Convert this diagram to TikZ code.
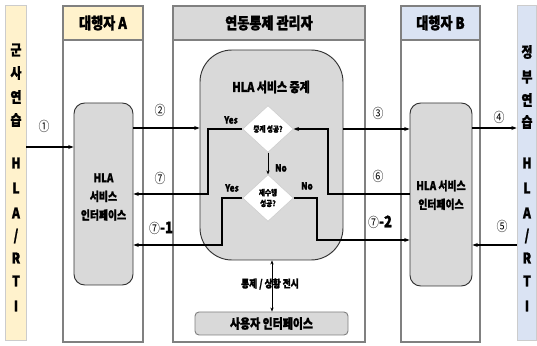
\documentclass[tikz,border=0pt]{standalone}
\usepackage{fontspec}
\setmainfont{Noto Sans CJK KR}[FakeStretch=0.82, BoldFeatures={FakeBold=1.3}]
\usetikzlibrary{shapes.geometric,arrows.meta,fit,calc}
\definecolor{yel}{HTML}{FFF2CC}
\definecolor{blu}{HTML}{DAE3F3}
\definecolor{gr}{HTML}{D9D9D9}
\definecolor{bord}{HTML}{808080}
\tikzset{
  col/.style={draw=bord, line width=1.1pt, inner sep=0pt},
  hdr/.style={draw=bord, line width=1.1pt, inner sep=0pt},
  hdrtxt/.style={inner sep=0pt, font=\bfseries\fontsize{12}{14}\selectfont},
  bar/.style={draw=bord!40, line width=0.5pt, inner sep=0pt},
  barch/.style={font=\bfseries\fontsize{11}{12}\selectfont, inner sep=0pt},
  ibox/.style={draw=black!80, fill=gr, line width=0.7pt, inner sep=0pt},
  itxt/.style={inner sep=0pt, align=center, font=\bfseries\fontsize{9}{14}\selectfont},
  dia/.style={diamond, fill=white, draw=gray!40, line width=0.4pt, inner sep=0pt, minimum width=38pt, minimum height=35pt, align=center, font=\bfseries\fontsize{6}{8}\selectfont},
  arr/.style={line width=1pt, -{Stealth[length=4pt,width=3pt]}},
  num/.style={font=\fontsize{10}{12}\selectfont, inner sep=0pt},
  yn/.style={font=\bfseries\fontsize{7.5}{9}\selectfont, inner sep=0pt},
}
\begin{document}
\begin{tikzpicture}[x=0.75pt,y=-0.75pt]
\useasboundingbox (0,0) rectangle (537,346);
% side bars
\node[bar, fill=yel, fit={(5,5)(26,340)}] (lbar) {};
\node[bar, fill=blu, fit={(517,5)(536,340)}] (rbar) {};
\foreach \c/\y [count=\i] in {군/50,사/73,연/97,습/120,H/163,L/188,A/213,{/}/236,R/258,T/281,I/306}
  \node[barch] (lc\i) at (16,\y) {\c};
\foreach \c/\y [count=\i] in {정/52,부/77,연/100,습/122,H/163,L/188,A/213,{/}/236,R/258,T/281,I/306}
  \node[barch] (rc\i) at (527,\y) {\c};
% columns
\node[col, fit={(63,6)(143,342)}] (colA) {};
\node[hdr, fill=yel, fit={(63,6)(143,40)}] (hA) {};
\node[hdrtxt] (tA) at (hA.center) {대행자 A};
\node[col, fit={(173,6)(365,342)}] (colC) {};
\node[hdr, fill=gr, fit={(173,6)(365,40)}] (hC) {};
\node[hdrtxt] (tC) at (hC.center) {연동통제 관리자};
\node[col, fit={(401,6)(480,342)}] (colB) {};
\node[hdr, fill=blu, fit={(401,6)(480,40)}] (hB) {};
\node[hdrtxt] (tB) at (hB.center) {대행자 B};
% inner boxes
\node[ibox, rounded corners=8pt, fit={(74,103)(133,285)}] (boxA) {};
\node[itxt] (tboxA) at (103.5,197) {HLA\\서비스\\인터페이스};
\node[ibox, rounded corners=8pt, fit={(410,103)(472,286)}] (boxB) {};
\node[itxt] (tboxB) at (441,195) {HLA 서비스\\인터페이스};
\node[ibox, rounded corners=24pt, fit={(200,50)(343,260)}] (ctr) {};
\node[itxt, font=\bfseries\fontsize{10}{12}\selectfont] (tctr) at (271,87) {HLA 서비스 중계};
\node[dia] (d1) at (268,129) {중계 성공?};
\node[dia] (d2) at (268,198) {재수행\\성공?};
\node[ibox, draw=gray, rounded corners=3pt, fit={(195,312)(348,335)}] (ui) {};
\node[itxt, font=\bfseries\fontsize{10}{12}\selectfont] (tui) at (ui.center) {사용자 인터페이스};
% helper coordinates
\coordinate (k6) at (328,0);
\coordinate (k7) at (208,0);
\coordinate (k71) at (222,0);
\coordinate (k72) at (317,0);
% connectors
\draw[arr] (lbar.east |- 0,147) -- (boxA.west |- 0,147);
\node[num] (n1) at (44,126) {①};
\draw[arr] (boxA.east |- 0,128) -- (ctr.west |- 0,128);
\node[num] (n2) at (160,110) {②};
\draw[arr] (ctr.east |- 0,129) -- (boxB.west |- 0,129);
\node[num] (n3) at (378,113) {③};
\draw[arr] (boxB.east |- 0,128) -- (rbar.west |- 0,128);
\node[num] (n4) at (499,117) {④};
\draw[arr] (rbar.west |- 0,245) -- (boxB.east |- 0,245);
\node[num] (n5) at (502,226) {⑤};
\draw[arr] (boxB.west |- 0,194) -- (k6 |- 0,194) -- (k6 |- d1.east) -- (d1.east);
\node[num] (n6) at (378,176) {⑥};
\draw[arr] (d1.west) -- (k7 |- d1.west) -- (k7 |- 0,194) -- (boxA.east |- 0,194);
\node[yn] (y1) at (231,120) {Yes};
\node[num] (n7) at (160,178) {⑦};
\draw[arr] (d2.west) -- (k71 |- d2.west) -- (k71 |- 0,245) -- (boxA.east |- 0,245);
\node[yn] (y2) at (232,188) {Yes};
\node[inner sep=0pt] (n71) at (161,228) {{\fontsize{10}{12}\selectfont ⑦}{\bfseries\fontsize{12}{12}\selectfont -1}};
\draw[arr] (d2.east) -- (k72 |- d2.east) -- (k72 |- 0,240) -- (boxB.west |- 0,240);
\node[yn] (no2) at (307,186) {No};
\node[inner sep=0pt] (n72) at (380,222) {{\fontsize{10}{12}\selectfont ⑦}{\bfseries\fontsize{12}{12}\selectfont -2}};
\draw[line width=0.6pt, -{Stealth[length=3pt,width=2.5pt]}] (d1.south) -- (d2.north);
\node[yn] (no1) at (281,168) {No};
% bottom
\node[fill=white, inner sep=1.5pt, font=\bfseries\fontsize{8}{10}\selectfont] (disp) at (270,284) {통제 / 상황 전시};
\draw[line width=0.6pt, {Stealth[length=3pt,width=2.5pt]}-{Stealth[length=3pt,width=2.5pt]}] (ctr.south -| 272,0) -- (ui.north -| 272,0);
\end{tikzpicture}
\end{document}
